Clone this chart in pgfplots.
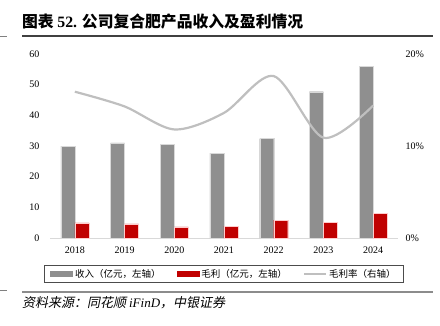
\documentclass[border=0pt]{standalone}
\usepackage{pgfplots}
\pgfplotsset{compat=1.18}
\usepackage{fontspec}
\setmainfont{Liberation Serif}
\newfontfamily\cjk{Noto Sans CJK SC}
\newfontfamily\cjkit[FakeSlant=0.2]{Noto Sans CJK SC}
\definecolor{bargray}{HTML}{8F8F8F}
\definecolor{barred}{HTML}{C00000}
\definecolor{linegray}{HTML}{BFBFBF}
\definecolor{axisgray}{HTML}{D9D9D9}
\begin{document}
\begin{tikzpicture}[x=1pt,y=1pt]
\useasboundingbox (0,0) rectangle (440,325);
\node[anchor=west,inner sep=0] at (22,303) {\fontsize{15.8}{17}\selectfont\cjk\bfseries 图表 {\rmfamily\bfseries 52.} 公司复合肥产品收入及盈利情况};
\draw[line width=1.2pt, black!75] (22,289) -- (433,289);
\draw[line width=1.2pt, black!45] (22,33) -- (433,33);
\draw[line width=0.8pt, black!50] (0,289) -- (7,289);
\draw[line width=0.8pt, black!50] (0,35) -- (7,35);
\node[anchor=west,inner sep=0] at (22,22) {\fontsize{13}{15}\selectfont\cjkit 资料来源：同花顺 {\rmfamily\itshape iFinD}，中银证券};
\begin{axis}[at={(50pt,87pt)}, anchor=south west, scale only axis,
  width=348pt, height=184pt,
  xmin=-0.5, xmax=6.5, ymin=0, ymax=60,
  ytick={0,10,...,60}, xtick={0,...,6},
  xticklabels={2018,2019,2020,2021,2022,2023,2024},
  axis y line*=left, axis x line*=bottom,
  y axis line style={draw=none},
  x axis line style={draw=axisgray, line width=1pt, -},
  major tick length=0,
  tick label style={font=\fontsize{10}{12}\selectfont},
  /pgf/number format/assume math mode=true,
  yticklabel style={xshift=-7pt},
  xticklabel style={yshift=-5pt},
  clip=false]
\addplot[ybar, bar width=14pt, bar shift=-7pt, fill=bargray, draw=white!85!black, line width=0.4pt] coordinates {(0,30.0) (1,31.0) (2,30.5) (3,27.7) (4,32.4) (5,47.7) (6,55.9)};
\addplot[ybar, bar width=14pt, bar shift=7pt, fill=barred, draw=white!80!red, line width=0.4pt] coordinates {(0,4.9) (1,4.6) (2,3.6) (3,3.9) (4,5.8) (5,5.2) (6,8.0)};
\end{axis}
\begin{axis}[at={(50pt,87pt)}, anchor=south west, scale only axis,
  width=348pt, height=184pt,
  xmin=-0.5, xmax=6.5, ymin=0, ymax=20,
  ytick={0,10,20}, yticklabel={\pgfmathprintnumber{\tick}\%},
  axis y line*=right, axis x line=none,
  y axis line style={draw=none},
  major tick length=0,
  tick label style={font=\fontsize{10}{12}\selectfont},
  /pgf/number format/assume math mode=true,
  yticklabel style={xshift=4pt},
  clip=false,
  legend columns=3,
  legend style={at={(0.5,-0.1957)}, anchor=center, draw=black!70, line width=0.8pt,
    font=\cjk\fontsize{9.5}{11}\selectfont, inner xsep=6pt, inner ysep=2pt,
    /tikz/every even column/.append style={column sep=14pt}},
  ]
\addlegendimage{legend image code/.code={\fill[bargray] (0pt,-2.5pt) rectangle (22pt,2.5pt);}}
\addlegendentry{收入（亿元，左轴）}
\addlegendimage{legend image code/.code={\fill[barred] (0pt,-2.5pt) rectangle (22pt,2.5pt);}}
\addlegendentry{毛利（亿元，左轴）}
\addplot[smooth, line width=2.2pt, color=linegray, mark=none,
  legend image code/.code={\draw[linegray, line width=2.2pt] (0pt,0pt) -- (22pt,0pt);}]
  coordinates {(0,15.9) (1,14.3) (2,11.8) (3,13.6) (4,17.6) (5,10.9) (6,14.4)};
\addlegendentry{毛利率（右轴）}
\end{axis}
\end{tikzpicture}
\end{document}
